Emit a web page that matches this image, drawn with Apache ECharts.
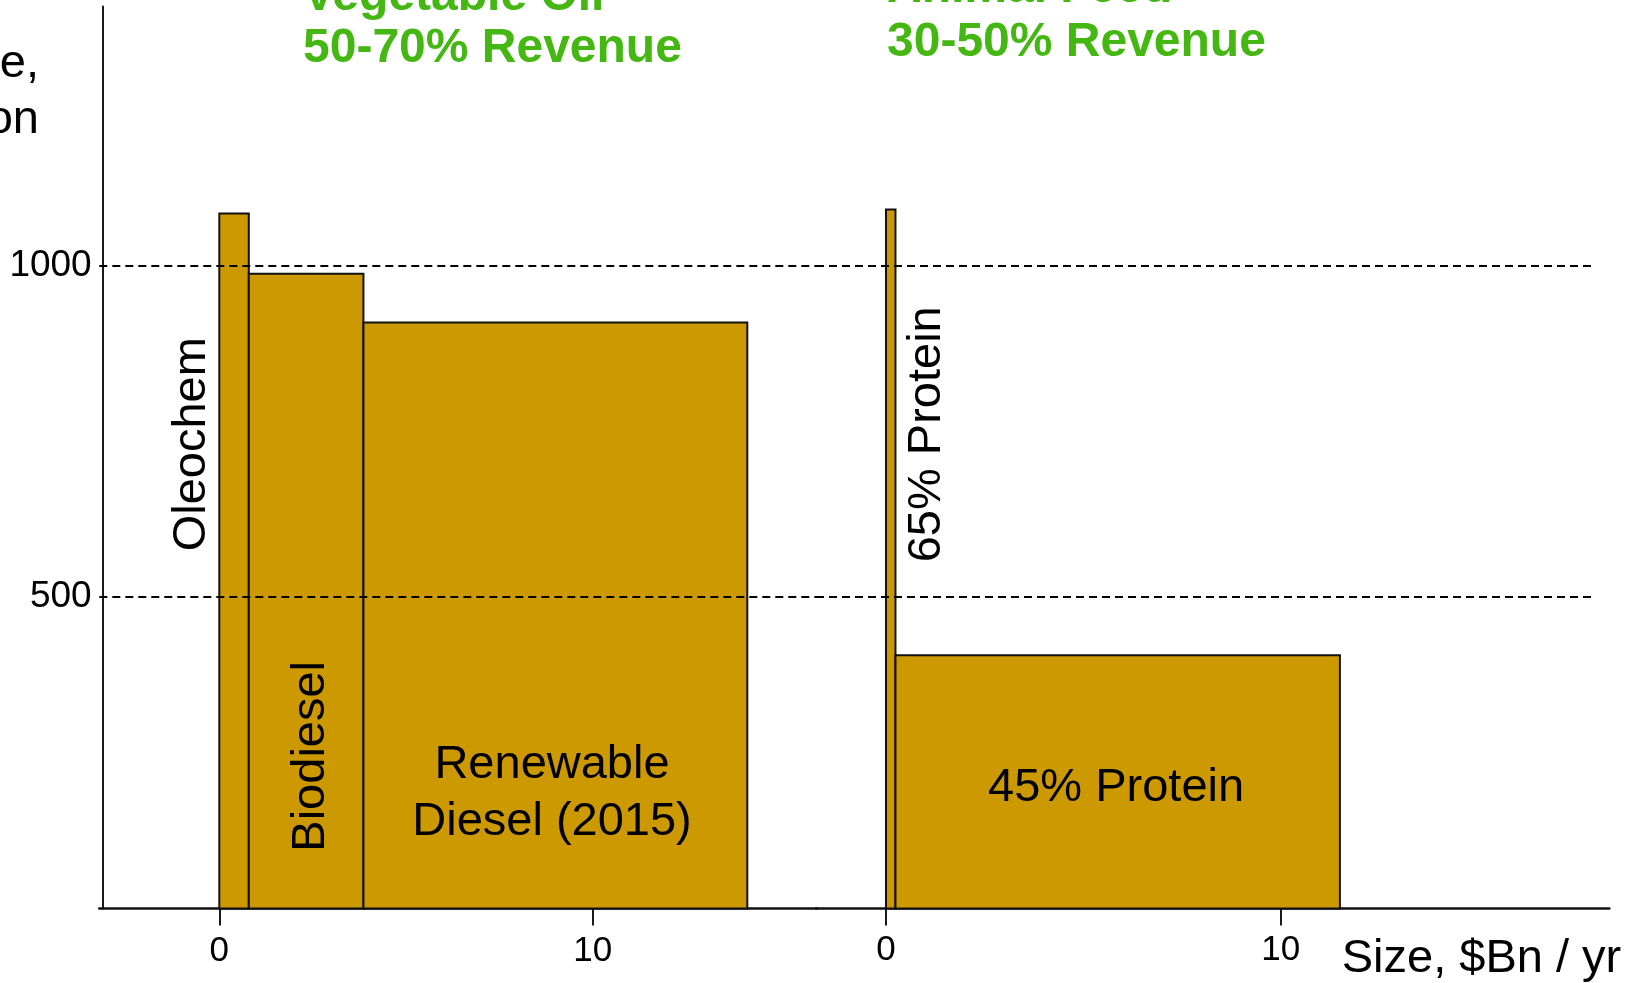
<!DOCTYPE html>
<html>
<head>
<meta charset="utf-8">
<script src="https://cdn.jsdelivr.net/npm/echarts@6/dist/echarts.min.js"></script>
<style>
html,body{margin:0;padding:0;background:#fff;}
#chart{width:1638px;height:983px;}
</style>
</head>
<body>
<div id="chart"></div>
<script>
// ---- data ----
const leftCategories = ['Oleochem', 'Biodiesel', 'Renewable\nDiesel (2015)'];
const leftSizes = [0.79, 3.07, 10.28];      // $Bn / yr (bar widths)
const leftPrices = [1079, 988, 914];        // $/ton (bar heights)
const rightCategories = ['65% Protein', '45% Protein'];
const rightSizes = [0.24, 11.26];
const rightPrices = [1085, 411];
const xTickValues = [0, 10];
const yTickValues = [500, 1000];
const gridValues = [500, 1000];
const groupTitles = ['Vegetable Oil', '50-70% Revenue', 'Animal Feed', '30-50% Revenue'];
const yAxisTitle = 'Price,\n$/ton';
const xAxisTitle = 'Size, $Bn / yr';

// ---- layout / style (not data) ----
const Y_MIN = 28, Y_MAX = 1392;
const X1_MIN = -3.2137, X1_MAX = 15.98;
const X2_MIN = -1.7735, X2_MAX = 18.325;
const GRID_END_X2 = 17.96;
const FONT = '"Liberation Sans", Arial, sans-serif';
const BAR_FILL = '#CC9900';
const GREEN = '#44B712';
// label anchors in data units, with rotation (degrees)
const leftLabelLayout = [
  {at: [-0.73, 730], rotate: 90},
  {at: [2.46, 258], rotate: 90},
  {at: [8.91, 202], rotate: 0}
];
const rightLabelLayout = [
  {at: [1.03, 745], rotate: 90},
  {at: [5.83, 210], rotate: 0}
];

function buildBars(sizes, prices) {
  const out = [];
  let start = 0;
  for (let i = 0; i < sizes.length; i++) {
    out.push([start, start + sizes[i], prices[i], i]);
    start += sizes[i];
  }
  return out;
}

function makeRenderItem(categories, layout) {
  return function (params, api) {
    const x0 = api.value(0), x1 = api.value(1), v = api.value(2), idx = api.value(3);
    const pBase = api.coord([x0, Y_MIN]);
    const pTop = api.coord([x1, v]);
    const lab = layout[idx];
    const lp = api.coord(lab.at);
    return {
      type: 'group',
      children: [
        {
          type: 'rect',
          shape: {x: pBase[0], y: pTop[1], width: pTop[0] - pBase[0], height: pBase[1] - pTop[1]},
          style: {fill: BAR_FILL, stroke: '#111', lineWidth: 2}
        },
        {
          type: 'text',
          x: lp[0], y: lp[1],
          rotation: lab.rotate * Math.PI / 180,
          z2: 10,
          style: {
            text: categories[idx],
            fontSize: 47, fontFamily: FONT, fill: '#000',
            align: 'center', verticalAlign: 'middle', lineHeight: 57
          }
        }
      ]
    };
  };
}

const dashStyle = {color: '#000', width: 1.8, type: [8, 5]};
const titleStyle = {fontSize: 48, fontWeight: 'bold', fontFamily: FONT, fill: GREEN, align: 'left', verticalAlign: 'middle', textShadowColor: '#b4b4b4', textShadowOffsetX: 2, textShadowOffsetY: 3};

const option = {
  animation: false,
  backgroundColor: '#fff',
  grid: [
    {left: 99.3, top: 6.5, width: 718, height: 901.9},
    {left: 816, top: 6.5, width: 793.3, height: 901.9}
  ],
  xAxis: [
    {
      type: 'value', gridIndex: 0, min: X1_MIN, max: X1_MAX + 1.3 / 37.34,
      axisLine: {show: true, onZero: false, lineStyle: {color: '#111', width: 2.5}},
      axisTick: {show: true, customValues: xTickValues, length: 17, lineStyle: {color: '#000', width: 1.8}},
      axisLabel: {show: true, customValues: xTickValues, margin: 25, fontSize: 35, fontFamily: FONT, color: '#000'},
      splitLine: {show: false}
    },
    {
      type: 'value', gridIndex: 1, min: X2_MIN, max: X2_MAX,
      axisLine: {show: true, onZero: false, lineStyle: {color: '#111', width: 2.5}},
      axisTick: {show: true, customValues: xTickValues, length: 17, lineStyle: {color: '#000', width: 1.8}},
      axisLabel: {show: true, customValues: xTickValues, margin: 24, fontSize: 35, fontFamily: FONT, color: '#000'},
      splitLine: {show: false}
    }
  ],
  yAxis: [
    {
      type: 'value', gridIndex: 0, min: Y_MIN, max: Y_MAX, offset: -3.4,
      axisLine: {show: true, onZero: false, lineStyle: {color: '#000', width: 1.8}},
      axisTick: {show: false},
      axisLabel: {show: true, customValues: yTickValues, margin: 11, fontSize: 37, fontFamily: FONT, color: '#000', formatter: v => String(v)},
      splitLine: {show: false}
    },
    {
      type: 'value', gridIndex: 1, min: Y_MIN, max: Y_MAX,
      axisLine: {show: false, onZero: false}, axisTick: {show: false}, axisLabel: {show: false}, splitLine: {show: false}
    }
  ],
  series: [
    {
      type: 'custom', name: 'Vegetable Oil', xAxisIndex: 0, yAxisIndex: 0, z: 2,
      renderItem: makeRenderItem(leftCategories, leftLabelLayout),
      encode: {x: [0, 1], y: 2},
      data: buildBars(leftSizes, leftPrices)
    },
    {
      type: 'custom', name: 'Animal Feed', xAxisIndex: 1, yAxisIndex: 1, z: 2,
      renderItem: makeRenderItem(rightCategories, rightLabelLayout),
      encode: {x: [0, 1], y: 2},
      data: buildBars(rightSizes, rightPrices)
    },
    {
      type: 'line', xAxisIndex: 0, yAxisIndex: 0, data: [], z: 5,
      markLine: {
        silent: true, symbol: 'none', z: 5, label: {show: false},
        lineStyle: dashStyle,
        data: gridValues.map(v => ({yAxis: v}))
      }
    },
    {
      type: 'line', xAxisIndex: 1, yAxisIndex: 1, data: [], z: 5,
      markLine: {
        silent: true, symbol: 'none', z: 5, label: {show: false},
        lineStyle: dashStyle,
        data: gridValues.map(v => [{coord: [X2_MIN, v]}, {coord: [GRID_END_X2, v]}])
      }
    }
  ],
  graphic: [
    {type: 'text', x: 39, y: 92, style: {text: yAxisTitle, fontSize: 47, fontFamily: FONT, fill: '#000', align: 'right', verticalAlign: 'middle', lineHeight: 56}},
    {type: 'text', x: 1341.7, y: 959, style: {text: xAxisTitle, fontSize: 47, fontFamily: FONT, fill: '#000', align: 'left', verticalAlign: 'middle'}},
    {type: 'text', x: 303, y: -3, style: Object.assign({text: groupTitles[0]}, titleStyle)},
    {type: 'text', x: 303, y: 48.5, style: Object.assign({text: groupTitles[1]}, titleStyle)},
    {type: 'text', x: 887, y: -11.5, style: Object.assign({text: groupTitles[2]}, titleStyle)},
    {type: 'text', x: 887, y: 42.5, style: Object.assign({text: groupTitles[3]}, titleStyle)}
  ]
};

const chart = echarts.init(document.getElementById('chart'), null, {renderer: 'canvas'});
chart.setOption(option);
</script>
</body>
</html>
